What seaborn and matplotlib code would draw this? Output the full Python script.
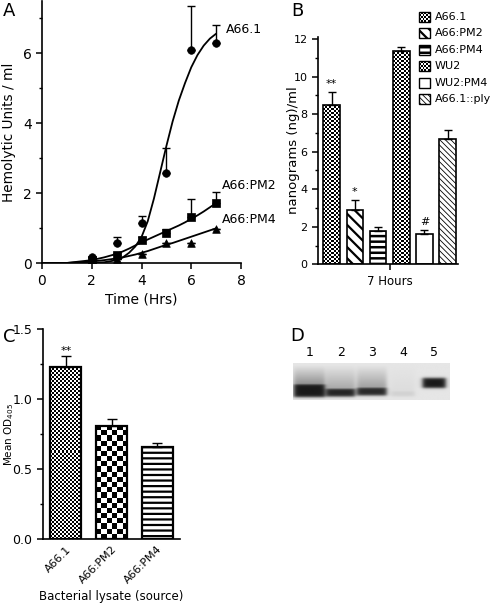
import matplotlib
matplotlib.use("Agg")
import matplotlib.pyplot as plt
from matplotlib.colors import ListedColormap
from matplotlib.patches import Rectangle
from matplotlib.ticker import MultipleLocator
import numpy as np
import seaborn as sns

# ---- Panel A: hemolytic units over time ----
time_hrs = [2, 3, 4, 5, 6, 7]
hu_a661 = [0.19, 0.57, 1.14, 2.57, 6.09, 6.29]
hu_a661_err = [0.0, 0.17, 0.21, 0.73, 1.26, 0.52]
hu_pm2 = [0.1, 0.25, 0.66, 0.87, 1.31, 1.71]
hu_pm2_err = [0.0, 0.04, 0.1, 0.11, 0.53, 0.32]
hu_pm4 = [0.05, 0.11, 0.26, 0.58, 0.58, 0.99]
hu_pm4_err = [0.0, 0.0, 0.0, 0.0, 0.0, 0.0]

# fitted curves
fit_t = [0, 1, 2, 2.5, 3, 3.25, 3.5, 3.75, 4, 4.25, 4.5, 4.75, 5, 5.25, 5.5, 5.75, 6, 6.25, 6.5, 6.75, 7]
fit_a661 = [0, 0, 0.01, 0.03, 0.09, 0.17, 0.3, 0.48, 0.75, 1.2, 1.85, 2.6, 3.35, 4.05, 4.65, 5.15,
            5.6, 5.95, 6.22, 6.42, 6.56]
fit_pm2 = [0, 0.01, 0.09, 0.17, 0.27, 0.34, 0.42, 0.51, 0.6, 0.68, 0.76, 0.84, 0.92, 1.0, 1.08, 1.17,
           1.27, 1.37, 1.48, 1.6, 1.72]
fit_pm4 = [0, 0.01, 0.05, 0.09, 0.14, 0.17, 0.21, 0.25, 0.3, 0.35, 0.41, 0.47, 0.53, 0.58, 0.64, 0.7,
           0.76, 0.82, 0.88, 0.94, 1.0]
curve_labels = ["A66.1", "A66:PM2", "A66:PM4"]

# ---- Panel B: pneumolysin ng/ml at 7 hours ----
strains = ["A66.1", "A66:PM2", "A66:PM4", "WU2", "WU2:PM4", "A66.1::ply"]
ng_ml = [8.5, 2.9, 1.76, 11.35, 1.6, 6.65]
ng_err = [0.7, 0.55, 0.22, 0.22, 0.25, 0.5]
sig_b = ["**", "*", "", "", "#", ""]

# ---- Panel C: mean OD405 by lysate ----
lysates = ["A66.1", "A66:PM2", "A66:PM4"]
od405 = [1.23, 0.81, 0.66]
od_err = [0.075, 0.05, 0.03]
sig_c = ["**", "", ""]

# ---- Panel D: western blot lanes ----
lanes = ["1", "2", "3", "4", "5"]
band_strength = [1.0, 0.95, 0.93, 0.1, 1.0]
band_y = [0.745, 0.8, 0.77, 0.83, 0.54]
band_thick = [0.36, 0.22, 0.22, 0.15, 0.27]
band_width = [1.0, 0.92, 0.95, 0.75, 0.74]
smear = [0.55, 0.35, 0.4, 0.05, 0.0]

# fill styles for the bars (checker = checkerboard texture)
b_fill = ["checker", "\\\\\\", "---", "checker", "", "\\" * 6]
b_hatch_lw = [0, 1.6, 1.8, 0, 0, 0.6]
c_fill = ["checker", "bigchecker", "---"]

W, H = 498, 604
sns.set_theme(style="ticks", rc={
    "axes.edgecolor": "black", "axes.linewidth": 1.2, "text.color": "black",
    "axes.labelcolor": "black", "xtick.color": "black", "ytick.color": "black",
    "xtick.major.width": 1.1, "ytick.major.width": 1.1,
    "xtick.minor.width": 1.0, "ytick.minor.width": 1.0,
    "xtick.major.size": 4, "ytick.major.size": 4,
    "xtick.minor.size": 2.5, "ytick.minor.size": 2.5,
})
plt.rcParams["font.family"] = ["DejaVu Sans"]

fig = plt.figure(figsize=(W / 100, H / 100), dpi=100)


def px_axes(left, top, right, bottom):
    return fig.add_axes([left / W, 1 - bottom / H, (right - left) / W, (bottom - top) / H])


def set_hatch(patch, hatch, lw):
    patch.set_hatch(hatch)
    if hasattr(patch, "set_hatch_linewidth"):
        patch.set_hatch_linewidth(lw)


def checker(ax, patch, cell_px):
    bb = patch.get_window_extent()
    ncol = max(1, int(round(bb.width / cell_px)))
    nrow = max(1, int(round(abs(bb.height) / cell_px)))
    grid = np.indices((nrow, ncol)).sum(axis=0) % 2
    x0, y0 = patch.get_x(), patch.get_y()
    x1, y1 = x0 + patch.get_width(), y0 + patch.get_height()
    im = ax.imshow(grid, cmap=ListedColormap(["white", "black"]), extent=(x0, x1, y0, y1),
                   origin="lower", interpolation="nearest", aspect="auto",
                   zorder=patch.get_zorder() - 0.05)
    im.set_clip_path(patch)
    patch.set_facecolor("none")


# ================= Panel A =================
ax_a = px_axes(42, 0.8, 241, 263.3)
for fit, pts, err, mk in [(fit_a661, hu_a661, hu_a661_err, "o"),
                          (fit_pm2, hu_pm2, hu_pm2_err, "s"),
                          (fit_pm4, hu_pm4, hu_pm4_err, "^")]:
    sns.lineplot(x=fit_t, y=fit, ax=ax_a, color="black", lw=1.3, zorder=2)
    ax_a.errorbar(time_hrs, pts, yerr=[np.zeros(len(err)), err], fmt="none",
                  ecolor="black", elinewidth=1.0, capsize=3, capthick=1.0, zorder=2)
    sns.scatterplot(x=time_hrs, y=pts, ax=ax_a, marker=mk, s=30, color="black",
                    edgecolor="black", linewidth=0.5, zorder=3)
ax_a.set_xlim(0, 8)
ax_a.set_ylim(0, 7.5)
ax_a.xaxis.set_major_locator(MultipleLocator(2))
ax_a.yaxis.set_major_locator(MultipleLocator(2))
ax_a.yaxis.set_minor_locator(MultipleLocator(1))
ax_a.tick_params(labelsize=10)
ax_a.set_xlabel("Time (Hrs)", fontsize=10)
ax_a.set_ylabel("Hemolytic Units / ml", fontsize=9.8)
ax_a.xaxis.set_label_coords(0.5, -0.11)
ax_a.yaxis.set_label_coords(-0.13, 0.5)
for lab, x, y in zip(curve_labels, [7.4, 7.22, 7.22], [6.68, 2.21, 1.26]):
    ax_a.text(x, y, lab, fontsize=9, ha="left", va="center", clip_on=False)
sns.despine(ax=ax_a)

# ================= Panel B =================
ax_b = px_axes(318, 36.7, 458, 264.3)
sns.barplot(x=strains, y=ng_ml, ax=ax_b, color="white", saturation=1, width=0.72,
            edgecolor="black", linewidth=1.2, errorbar=None)
ax_b.set_xlim(-0.59, 5.45)
ax_b.set_ylim(0, 12.12)
for p, fill, lw in zip(ax_b.patches, b_fill, b_hatch_lw):
    if fill == "checker":
        checker(ax_b, p, 2)
    elif fill:
        set_hatch(p, fill, lw)
ax_b.errorbar(range(len(strains)), ng_ml, yerr=[np.zeros(len(ng_err)), ng_err], fmt="none",
              ecolor="black", elinewidth=1.0, capsize=3, capthick=1.0, zorder=3)
for i, (v, e, s) in enumerate(zip(ng_ml, ng_err, sig_b)):
    if s:
        ax_b.text(i, v + e + 0.12, s, ha="center", va="bottom", fontsize=8)
ax_b.set_xlim(-0.59, 5.45)
ax_b.set_ylim(0, 12.12)
ax_b.set_xticks([(len(strains) - 1) / 2])
ax_b.set_xticklabels(["7 Hours"], fontsize=8.5)
ax_b.yaxis.set_major_locator(MultipleLocator(2))
ax_b.yaxis.set_minor_locator(MultipleLocator(1))
ax_b.tick_params(axis="y", labelsize=8)
ax_b.set_ylabel("nanograms (ng)/ml", fontsize=9.5)
ax_b.yaxis.set_label_coords(-0.13, 0.5)
ax_b.set_xlabel("")
sns.despine(ax=ax_b)

# manual legend for panel B
ax_leg = px_axes(415, 5, 498, 110)
ax_leg.set_xlim(415, 498)
ax_leg.set_ylim(110, 5)
ax_leg.axis("off")
for i, (name, fill, lw) in enumerate(zip(strains, b_fill, b_hatch_lw)):
    yc = 17 + 16.4 * i
    r = Rectangle((419, yc - 5), 11, 10, facecolor="white", edgecolor="black", lw=1.0)
    ax_leg.add_patch(r)
    if fill == "checker":
        checker(ax_leg, r, 2)
    elif fill:
        set_hatch(r, fill, lw)
    ax_leg.text(435, yc, name, fontsize=8, ha="left", va="center")
ax_leg.set_xlim(415, 498)
ax_leg.set_ylim(110, 5)

# ================= Panel C =================
ax_c = px_axes(43, 329, 180, 539.3)
sns.barplot(x=lysates, y=od405, ax=ax_c, color="white", saturation=1, width=0.68,
            edgecolor="black", linewidth=1.6, errorbar=None)
ax_c.set_xlim(-0.5, 2.5)
ax_c.set_ylim(0, 1.5)
for p, fill in zip(ax_c.patches, c_fill):
    if fill == "checker":
        checker(ax_c, p, 2)
    elif fill == "bigchecker":
        checker(ax_c, p, 5.2)
    else:
        set_hatch(p, fill, 1.6)
ax_c.errorbar(range(len(lysates)), od405, yerr=[np.zeros(len(od_err)), od_err], fmt="none",
              ecolor="black", elinewidth=1.0, capsize=3.5, capthick=1.0, zorder=3)
for i, (v, e, s) in enumerate(zip(od405, od_err, sig_c)):
    if s:
        ax_c.text(i, v + e + 0.005, s, ha="center", va="bottom", fontsize=8)
ax_c.set_xlim(-0.5, 2.5)
ax_c.set_ylim(0, 1.5)
ax_c.yaxis.set_major_locator(MultipleLocator(0.5))
ax_c.yaxis.set_minor_locator(MultipleLocator(0.25))
ax_c.tick_params(axis="y", labelsize=9)
ax_c.tick_params(axis="x", length=0)
ax_c.set_xticks(range(len(lysates)))
ax_c.set_xticklabels(lysates, rotation=45, ha="right", rotation_mode="anchor", fontsize=8)
ax_c.set_ylabel("Mean OD$_{405}$", fontsize=7.5)
ax_c.yaxis.set_label_coords(-0.2, 0.5)
ax_c.set_xlabel("Bacterial lysate (source)", fontsize=8.5)
ax_c.xaxis.set_label_coords(0.5, -0.24)
sns.despine(ax=ax_c)

# ================= Panel D =================
ax_d = px_axes(293.3, 363.3, 450, 400)
gx = np.linspace(-0.52, 4.5, 320)
gy = np.linspace(0, 1, 90)
X, Y = np.meshgrid(gx, gy)


def soft(u, half, s):
    return 1 / (1 + np.exp((np.abs(u) - half) / s))


dark = np.zeros_like(X)
for i in range(len(lanes)):
    xs = soft(X - i, band_width[i] / 2, 0.04)
    band = band_strength[i] * soft(Y - band_y[i], band_thick[i] / 2, 0.02)
    ramp = np.clip((Y - 0.05) / (band_y[i] - 0.05), 0, 1) * (Y < band_y[i])
    dark += xs * np.maximum(band, smear[i] * ramp)
img = 0.9 - 0.8 * np.clip(dark, 0, 1)
ax_d.imshow(img, cmap="gray", vmin=0, vmax=1, extent=(-0.52, 4.5, 1, 0), aspect="auto",
            interpolation="bilinear")
ax_d.set_xlim(-0.52, 4.5)
ax_d.set_ylim(1, 0)
ax_d.set_xticks(range(len(lanes)))
ax_d.set_xticklabels(lanes, fontsize=9)
ax_d.xaxis.tick_top()
ax_d.tick_params(axis="x", length=0, pad=3)
ax_d.set_yticks([])
for sp in ax_d.spines.values():
    sp.set_visible(False)

# panel letters
for letter, x, y in [("A", 9, 11), ("B", 297.5, 11), ("C", 9, 337.5), ("D", 297, 336)]:
    fig.text(x / W, 1 - y / H, letter, fontsize=13, ha="center", va="center")

fig.savefig("out.png", dpi=100)
